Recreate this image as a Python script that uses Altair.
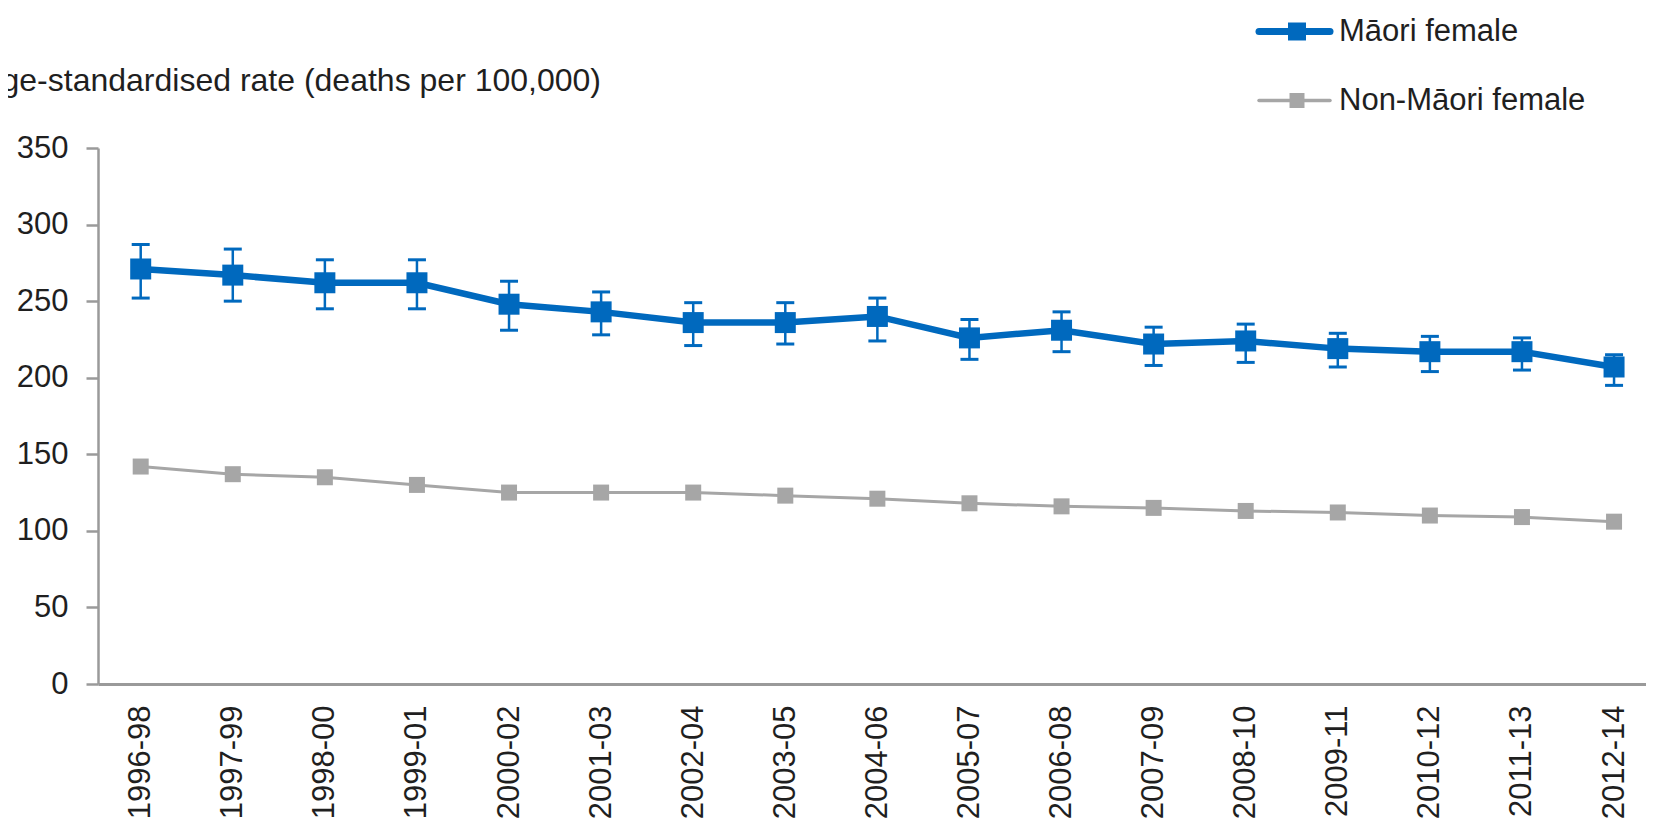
import json
import altair as alt
import pandas as pd

# ---- data ----
periods = ["1996-98", "1997-99", "1998-00", "1999-01", "2000-02", "2001-03",
           "2002-04", "2003-05", "2004-06", "2005-07", "2006-08", "2007-09",
           "2008-10", "2009-11", "2010-12", "2011-13", "2012-14"]
maori = [271, 267, 262, 262, 248, 243, 236, 236, 240, 226, 231, 222, 224, 219, 217, 217, 207]
maori_upper = [287, 284, 277, 277, 263, 256, 249, 249, 252, 238, 243, 233, 235, 229, 227, 226, 215]
maori_lower = [252, 250, 245, 245, 231, 228, 221, 222, 224, 212, 217, 208, 210, 207, 204, 205, 195]
non_maori = [142, 137, 135, 130, 125, 125, 125, 123, 121, 118, 116, 115, 113, 112, 110, 109, 106]
series_names = ["Māori female", "Non-Māori female"]
y_ticks = [0, 50, 100, 150, 200, 250, 300, 350]
y_title = "Age-standardised rate (deaths per 100,000)"

# ---- styling ----
BLUE = "#0069be"
GRAY = "#a6a6a6"
AXIS = "#9a9a9a"
TEXT = "#1f1f1f"
FONT = "Liberation Sans"
FS = 31

df = pd.DataFrame({
    "idx": list(range(len(periods))),
    "period": periods,
    "maori": maori,
    "upper": maori_upper,
    "lower": maori_lower,
    "non": non_maori,
})

label_expr = json.dumps(periods) + "[datum.value]"

x_enc = alt.X(
    "idx:Q",
    scale=alt.Scale(domain=[-0.4637, 16.347], nice=False, zero=False),
    axis=alt.Axis(
        values=list(range(len(periods))), labelExpr=label_expr,
        labelAngle=270, labelAlign="right", labelBaseline="middle",
        ticks=False, tickSize=0, grid=False, title=None, labelPadding=21,
        domainColor=AXIS, domainWidth=3, labelFont=FONT, labelFontSize=FS,
        labelColor=TEXT, labelOverlap=False, labelFlush=False,
    ),
)

y_axis = alt.Axis(
    values=y_ticks, grid=False, title=None, tickSize=12, tickColor=AXIS,
    tickWidth=2.5, domainColor=AXIS, domainWidth=2.5, labelPadding=18,
    labelFont=FONT, labelFontSize=FS, labelColor=TEXT, labelFlush=False,
)
y_scale = alt.Scale(domain=[0, 350], nice=False)


def Y(field):
    return alt.Y(f"{field}:Q", scale=y_scale, axis=y_axis)


base = alt.Chart(df)

gray_line = base.mark_line(color=GRAY, strokeWidth=3).encode(x=x_enc, y=Y("non"))
gray_pts = base.mark_square(color=GRAY, size=256, opacity=1).encode(x=x_enc, y=Y("non"))

err_rule = base.mark_rule(color=BLUE, strokeWidth=2.5).encode(
    x=x_enc, y=Y("lower"), y2="upper")
err_top = base.mark_tick(color=BLUE, orient="horizontal", size=18, thickness=3,
                         opacity=1).encode(x=x_enc, y=Y("upper"))
err_bot = base.mark_tick(color=BLUE, orient="horizontal", size=18, thickness=3,
                         opacity=1).encode(x=x_enc, y=Y("lower"))

blue_line = base.mark_line(color=BLUE, strokeWidth=6.5).encode(x=x_enc, y=Y("maori"))
blue_pts = base.mark_square(color=BLUE, size=441, opacity=1).encode(x=x_enc, y=Y("maori"))


def legend_item(name, color, ypos, lw, msize):
    d = pd.DataFrame({"label": [name]})
    c = alt.Chart(d)
    line = c.mark_rule(color=color, strokeWidth=lw, strokeCap="round").encode(
        x=alt.value(1161), x2=alt.value(1232), y=alt.value(ypos))
    sq = c.mark_square(color=color, size=msize, opacity=1).encode(
        x=alt.value(1199), y=alt.value(ypos))
    txt = c.mark_text(align="left", baseline="middle", font=FONT, fontSize=FS,
                      color=TEXT).encode(
        x=alt.value(1241), y=alt.value(ypos), text="label:N")
    return [line, sq, txt]


leg = legend_item(series_names[0], BLUE, -116.5, 7, 324) + \
    legend_item(series_names[1], GRAY, -47.5, 3.5, 225)

title = alt.Chart(pd.DataFrame({"t": [y_title]})).mark_text(
    align="right", baseline="middle", font=FONT, fontSize=32, color=TEXT
).encode(x=alt.value(503), y=alt.value(-67.5), text="t:N")

chart = alt.layer(
    gray_line, gray_pts, err_rule, err_top, err_bot, blue_line, blue_pts,
    *leg, title
).properties(
    width=1548, height=536,
    autosize=alt.AutoSizeParams(type="none"),
    padding={"left": 90, "top": 140, "right": 0, "bottom": 137},
    background="white",
).configure_view(stroke=None)

chart.save("out.html", embed_options={"renderer": "svg", "actions": False})
